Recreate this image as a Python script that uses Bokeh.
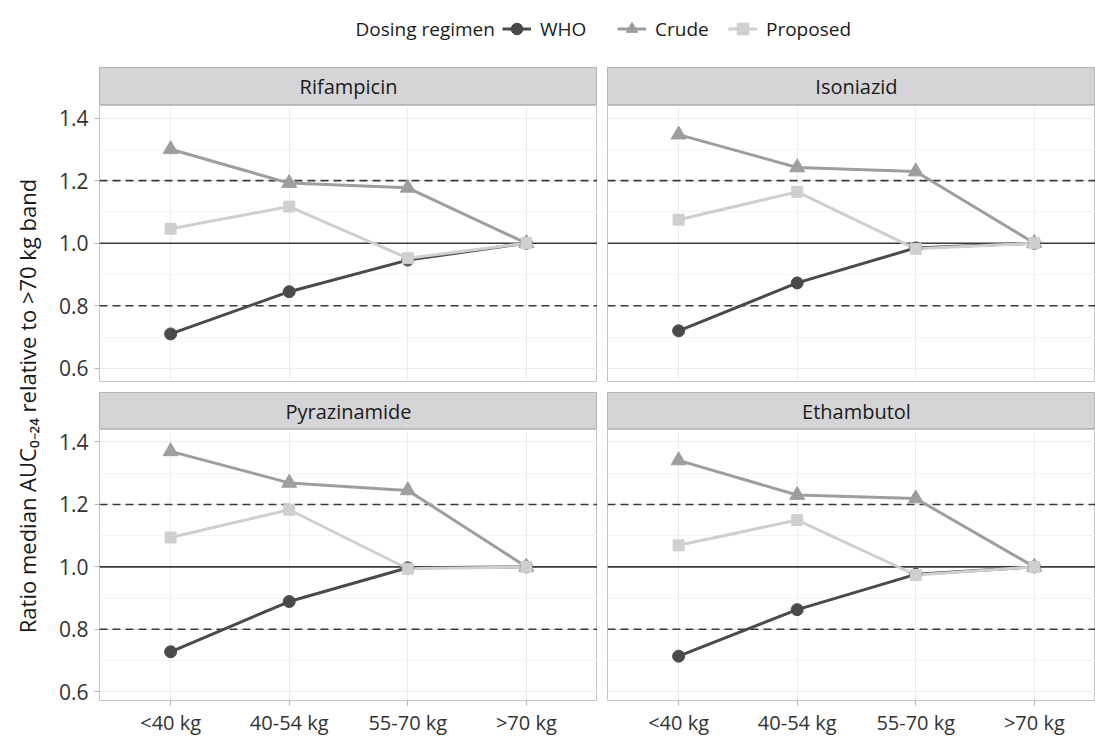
import math
from bokeh.plotting import figure
from bokeh.layouts import column, row
from bokeh.models import (FixedTicker, Label, Legend, LegendItem, Span, Range1d,
                          NumeralTickFormatter, ColumnDataSource)
from bokeh.embed import file_html
from bokeh.resources import INLINE

# ---------------- data ----------------
categories = ["<40 kg", "40-54 kg", "55-70 kg", ">70 kg"]
regimens = ["WHO", "Crude", "Proposed"]
drugs = ["Rifampicin", "Isoniazid", "Pyrazinamide", "Ethambutol"]

rif_who = [0.710, 0.845, 0.946, 1.0]
rif_crude = [1.300, 1.192, 1.177, 1.0]
rif_prop = [1.046, 1.117, 0.952, 1.0]

inh_who = [0.720, 0.873, 0.985, 1.0]
inh_crude = [1.347, 1.242, 1.229, 1.0]
inh_prop = [1.075, 1.164, 0.982, 1.0]

pza_who = [0.728, 0.889, 0.997, 1.0]
pza_crude = [1.370, 1.269, 1.245, 1.0]
pza_prop = [1.094, 1.183, 0.994, 1.0]

emb_who = [0.714, 0.863, 0.976, 1.0]
emb_crude = [1.341, 1.230, 1.219, 1.0]
emb_prop = [1.069, 1.150, 0.974, 1.0]

reference_ratio = 1.0
bounds = [0.8, 1.2]
y_ticks = [0.6, 0.8, 1.0, 1.2, 1.4]
y_label = "Ratio median AUC\u2080\u208b\u2082\u2084 relative to >70 kg band"
legend_title = "Dosing regimen"

series = {
    "Rifampicin": [rif_who, rif_crude, rif_prop],
    "Isoniazid": [inh_who, inh_crude, inh_prop],
    "Pyrazinamide": [pza_who, pza_crude, pza_prop],
    "Ethambutol": [emb_who, emb_crude, emb_prop],
}

# ---------------- style ----------------
FONT = "Open Sans"
TXT = "#1a1a1a"
colors = ["#4a4a4a", "#9e9e9e", "#cfcfcf"]
markers = ["circle", "triangle", "square"]
msizes = [12, 15, 11]
LW = 3
STRIP_FILL = "#d5d5d7"
BORDER = "#c4c4c4"
GRID = "#ebebeb"
MINOR_GRID = "#f4f4f4"

xs = list(range(1, len(categories) + 1))
x_labels = {x: c for x, c in zip(xs, categories)}
minor_y = [(a + b) / 2 for a, b in zip(y_ticks[:-1], y_ticks[1:])]
nan = float("nan")

LEFT_W, RIGHT_W = 547, 498
X_END = {0: 4.6, 1: 4.516}
Y_RANGE = {0: (0.558, 1.44), 1: (0.572, 1.44)}


def strip(name, col, height):
    p = figure(width=LEFT_W if col == 0 else RIGHT_W, height=height,
               x_range=Range1d(0.4, X_END[col]), y_range=Range1d(0, 1),
               output_backend="svg", toolbar_location=None, title=None,
               x_axis_location=None, y_axis_location=None,
               min_border_left=49 if col == 0 else 10, min_border_right=0,
               min_border_top=0, min_border_bottom=0)
    p.grid.visible = False
    p.background_fill_color = STRIP_FILL
    p.border_fill_color = "white"
    p.outline_line_color = "#b5b5b5"
    p.outline_line_width = 1
    p.add_layout(Label(x=sum(xs) / len(xs), y=0.5, text=name, text_align="center",
                       text_baseline="middle", text_font=FONT, text_font_size="20px",
                       text_color=TXT))
    return p


def panel(name, col, rw):
    left = col == 0
    bottom = rw == 1
    p = figure(width=LEFT_W if left else RIGHT_W, height=309 if bottom else 287,
               x_range=Range1d(0.4, X_END[col]), y_range=Range1d(*Y_RANGE[rw]),
               output_backend="svg", toolbar_location=None, title=None,
               x_axis_location="below" if bottom else None,
               y_axis_location="left" if left else None,
               min_border_left=49 if left else 10, min_border_right=0,
               min_border_top=0, min_border_bottom=36 if bottom else 11)
    p.background_fill_color = "white"
    p.border_fill_color = "white"
    p.outline_line_color = BORDER
    p.outline_line_width = 1

    p.xgrid.ticker = FixedTicker(ticks=xs)
    p.ygrid.ticker = FixedTicker(ticks=y_ticks, minor_ticks=minor_y)
    p.xgrid.grid_line_color = GRID
    p.ygrid.grid_line_color = GRID
    p.ygrid.minor_grid_line_color = MINOR_GRID

    for ax in list(p.xaxis) + list(p.yaxis):
        ax.axis_line_color = None
        ax.major_tick_line_color = "#b3b3b3"
        ax.major_tick_in = 0
        ax.major_tick_out = 5
        ax.minor_tick_in = 0
        ax.minor_tick_out = 0
        ax.major_label_text_font = FONT
        ax.major_label_text_color = "#333333"
    if bottom:
        p.xaxis.ticker = FixedTicker(ticks=xs)
        p.xaxis.major_label_overrides = x_labels
        p.xaxis.major_label_standoff = 3
        p.xaxis.major_label_text_font_size = "20px"
    if left:
        p.yaxis.ticker = FixedTicker(ticks=y_ticks, minor_ticks=minor_y)
        p.yaxis.formatter = NumeralTickFormatter(format="0.0")
        p.yaxis.major_label_standoff = 6
        p.yaxis.major_label_text_font_size = "21px"

    p.add_layout(Span(location=reference_ratio, dimension="width", line_color="#3a3a3a",
                      line_width=1.6, level="underlay"))
    for b in bounds:
        p.add_layout(Span(location=b, dimension="width", line_color="#3a3a3a",
                          line_width=1.6, line_dash="8 5", level="underlay"))

    vals = series[name]
    for i, v in enumerate(vals):
        src = ColumnDataSource(dict(x=xs, y=v))
        p.line("x", "y", source=src, line_color=colors[i], line_width=LW)
    for i, v in enumerate(vals):
        src = ColumnDataSource(dict(x=xs, y=v))
        p.scatter("x", "y", source=src, marker=markers[i], size=msizes[i],
                  fill_color=colors[i], line_color=colors[i])
    return p


# ---------------- legend strip ----------------
leg = figure(width=1095, height=67, x_range=Range1d(0, 1), y_range=Range1d(0, 1),
             output_backend="svg", toolbar_location=None, title=None,
             x_axis_location=None, y_axis_location=None, min_border=0)
leg.grid.visible = False
leg.outline_line_color = None
leg.add_layout(Label(x=355, y=38.5, x_units="screen", y_units="screen", text=legend_title,
                     text_align="left", text_baseline="middle", text_font=FONT,
                     text_font_size="19px", text_color=TXT))
legend_x = [502, 617, 728]
for i, reg in enumerate(regimens):
    # proxy renderers (not drawn in the frame) that give the legend its key glyphs
    r_line = leg.line(x=[nan], y=[nan], line_color=colors[i], line_width=LW)
    r_pt = leg.scatter(x=[nan], y=[nan], marker=markers[i], size=msizes[i],
                       fill_color=colors[i], line_color=colors[i])
    lg = Legend(items=[LegendItem(label=reg, renderers=[r_line, r_pt])],
                location=(legend_x[i], 24), orientation="horizontal",
                glyph_width=29, glyph_height=29, label_standoff=9, padding=0, margin=0,
                border_line_color=None, background_fill_alpha=0,
                label_text_font=FONT, label_text_font_size="19px", label_text_color=TXT)
    leg.add_layout(lg, "center")

# ---------------- y label ----------------
ylab = figure(width=50, height=671, x_range=Range1d(0, 1), y_range=Range1d(0, 1),
              output_backend="svg", toolbar_location=None, title=None,
              x_axis_location=None, y_axis_location=None, min_border=0)
ylab.grid.visible = False
ylab.outline_line_color = None
ylab.add_layout(Label(x=26, y=332.5, x_units="screen", y_units="screen", text=y_label,
                      angle=math.pi / 2, text_align="center", text_baseline="middle",
                      text_font=FONT, text_font_size="22px", text_color=TXT))

cols = []
for col in range(2):
    top_name = drugs[col]
    bot_name = drugs[col + 2]
    cols.append(column(strip(top_name, col, 38), panel(top_name, col, 0),
                       strip(bot_name, col, 37), panel(bot_name, col, 1), spacing=0))

layout = column(leg, row(ylab, cols[0], cols[1], spacing=0), spacing=0)

open("out.html", "w").write(file_html(layout, INLINE))
